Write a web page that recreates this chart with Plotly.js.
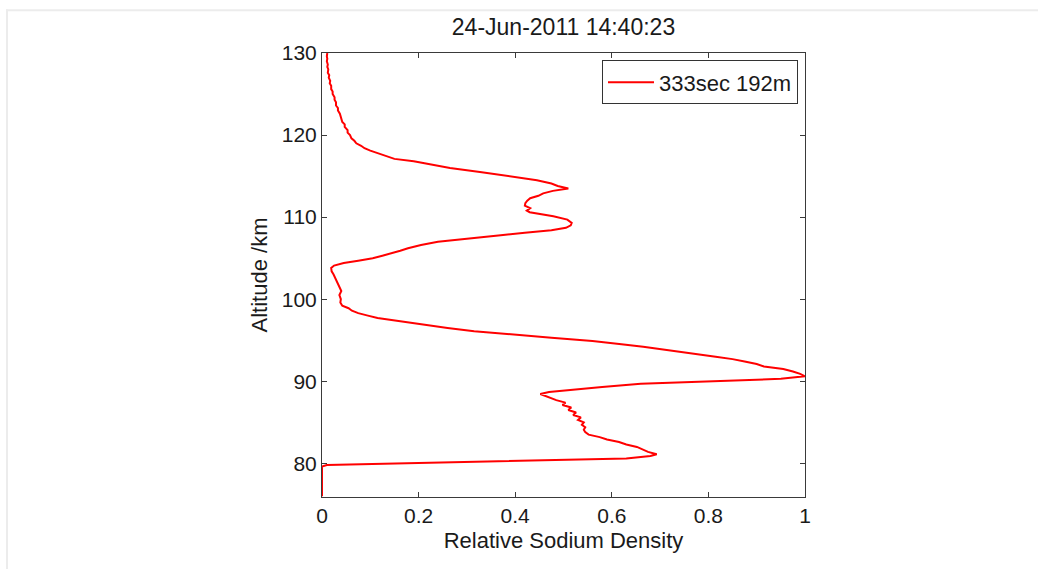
<!DOCTYPE html>
<html>
<head>
<meta charset="utf-8">
<script src="https://cdn.plot.ly/plotly-3.0.1.min.js"></script>
<style>
  html, body { margin: 0; padding: 0; background: #ffffff; }
  #chart { width: 1038px; height: 569px; }
</style>
</head>
<body>
<div id="chart"></div>
<script>
const altitude = [
  76.0, 79.6, 79.8, 80.0, 80.3, 80.6, 80.9, 81.1, 81.4, 81.7,
  82.0, 82.3, 82.6, 82.9, 83.2, 83.5, 83.8, 84.1, 84.4, 84.7,
  85.0, 85.3, 85.6, 85.9, 86.2, 86.5, 86.8, 87.1, 87.4, 87.7,
  88.0, 88.2, 88.45, 88.7, 89.0, 89.3, 89.7, 90.0, 90.3, 90.6,
  90.9, 91.2, 91.5, 91.8, 92.1, 92.4, 92.7, 93.0, 93.3, 93.6,
  93.9, 94.2, 94.5, 94.9, 95.3, 95.7, 96.1, 96.5, 96.8, 97.1,
  97.4, 97.7, 98.0, 98.3, 98.6, 98.9, 99.2, 99.6, 100.0, 100.5,
  101.0, 101.4, 101.8, 102.2, 102.6, 103.0, 103.4, 103.8, 104.1, 104.4,
  104.7, 105.0, 105.3, 105.6, 105.9, 106.2, 106.6, 107.0, 107.4, 107.8,
  108.1, 108.4, 108.7, 109.0, 109.3, 109.7, 110.1, 110.4, 110.6, 110.8,
  111.1, 111.4, 111.7, 112.0, 112.3, 112.6, 112.9, 113.2, 113.5, 113.8,
  114.1, 114.5, 115.0, 115.5, 116.0, 116.5, 116.8, 117.1, 117.5, 117.8,
  118.1, 118.4, 118.7, 119.0, 119.3, 119.6, 120.0, 120.3, 120.6, 121.0,
  121.3, 121.6, 122.0, 122.3, 122.6, 123.0, 123.3, 123.6, 124.0, 124.3,
  124.6, 125.0, 125.3, 125.6, 126.0, 126.3, 126.6, 127.0, 127.3, 127.6,
  128.0, 128.3, 128.6, 129.0, 129.3, 129.6, 130.0
];
const density = [
  0.0, 0.0, 0.01, 0.16, 0.44, 0.63, 0.68, 0.693, 0.675, 0.662,
  0.652, 0.63, 0.615, 0.59, 0.575, 0.552, 0.545, 0.542, 0.545, 0.538,
  0.542, 0.530, 0.536, 0.520, 0.526, 0.510, 0.516, 0.498, 0.504, 0.485,
  0.472, 0.462, 0.452, 0.470, 0.52, 0.58, 0.66, 0.80, 0.95, 1.0,
  0.99, 0.975, 0.955, 0.915, 0.900, 0.875, 0.850, 0.815, 0.78, 0.745,
  0.71, 0.665, 0.620, 0.56, 0.475, 0.40, 0.315, 0.26, 0.225, 0.18,
  0.15, 0.115, 0.095, 0.075, 0.062, 0.055, 0.042, 0.038, 0.039, 0.036,
  0.040, 0.037, 0.033, 0.030, 0.027, 0.024, 0.020, 0.019, 0.025, 0.045,
  0.075, 0.105, 0.125, 0.145, 0.162, 0.178, 0.205, 0.24, 0.30, 0.37,
  0.42, 0.475, 0.505, 0.515, 0.517, 0.508, 0.479, 0.445, 0.430, 0.424,
  0.431, 0.420, 0.421, 0.425, 0.431, 0.448, 0.458, 0.478, 0.510, 0.488,
  0.475, 0.445, 0.389, 0.327, 0.265, 0.215, 0.19, 0.150, 0.128, 0.115,
  0.100, 0.088, 0.081, 0.071, 0.067, 0.061, 0.058, 0.053, 0.053, 0.047,
  0.047, 0.042, 0.040, 0.037, 0.037, 0.033, 0.033, 0.029, 0.029, 0.026,
  0.026, 0.022, 0.022, 0.019, 0.019, 0.016, 0.017, 0.014, 0.015, 0.012,
  0.013, 0.011, 0.012, 0.010, 0.011, 0.010, 0.011
];
const seriesName = '333sec 192m';
const chartTitle = '24-Jun-2011 14:40:23';
const xTitle = 'Relative Sodium Density';
const yTitle = 'Altitude /km';
const xTicks = [0, 0.2, 0.4, 0.6, 0.8, 1];
const xTickText = ['0', '0.2', '0.4', '0.6', '0.8', '1'];
const yTicks = [80, 90, 100, 110, 120, 130];

const FONT = 'Liberation Sans, Arial, Helvetica, sans-serif';
const AX = '#3a3a3a';
const TXT = '#1a1a1a';

const trace = {
  type: 'scatter',
  mode: 'lines',
  x: density,
  y: altitude,
  name: seriesName,
  showlegend: true,
  line: { color: '#ff0000', width: 2 }
};

const axisCommon = {
  showgrid: false,
  zeroline: false,
  showline: true,
  linecolor: AX,
  linewidth: 1,
  mirror: 'allticks',
  ticks: 'inside',
  ticklen: 5,
  tickcolor: AX,
  tickwidth: 1,
  tickfont: { family: FONT, size: 21, color: TXT },
  automargin: false
};

const layout = {
  width: 1038,
  height: 569,
  margin: { l: 322, r: 233, t: 53, b: 72, pad: 0 },
  paper_bgcolor: '#ffffff',
  plot_bgcolor: '#ffffff',
  font: { family: FONT, color: TXT },
  title: {
    text: chartTitle,
    font: { family: FONT, size: 23, color: TXT },
    x: 0.5, xref: 'paper', xanchor: 'center',
    y: 1 - 27 / 569, yref: 'container', yanchor: 'middle'
  },
  xaxis: Object.assign({}, axisCommon, {
    range: [0, 1],
    tickvals: xTicks,
    ticktext: xTickText,
    title: { text: xTitle, font: { family: FONT, size: 22, color: TXT }, standoff: 6 }
  }),
  yaxis: Object.assign({}, axisCommon, {
    range: [75.9, 130],
    tickvals: yTicks,
    title: { text: yTitle, font: { family: FONT, size: 22, color: TXT }, standoff: 8 }
  }),
  showlegend: true,
  legend: {
    x: 0.9855, xanchor: 'right',
    y: 0.9835, yanchor: 'top',
    bgcolor: '#ffffff',
    bordercolor: '#333333',
    borderwidth: 1,
    font: { family: FONT, size: 22, color: TXT },
    itemwidth: 46
  },
  shapes: [
    { type: 'line', xref: 'paper', yref: 'paper',
      x0: (6 - 322) / 483, x1: (1040 - 322) / 483,
      y0: (496.7 - 10) / 444, y1: (496.7 - 10) / 444,
      line: { color: '#ececec', width: 2 } },
    { type: 'line', xref: 'paper', yref: 'paper',
      x0: (7 - 322) / 483, x1: (7 - 322) / 483,
      y0: (496.7 - 9) / 444, y1: (496.7 - 572) / 444,
      line: { color: '#ececec', width: 2 } }
  ]
};

Plotly.newPlot('chart', [trace], layout, { displayModeBar: false, staticPlot: true });
</script>
</body>
</html>
